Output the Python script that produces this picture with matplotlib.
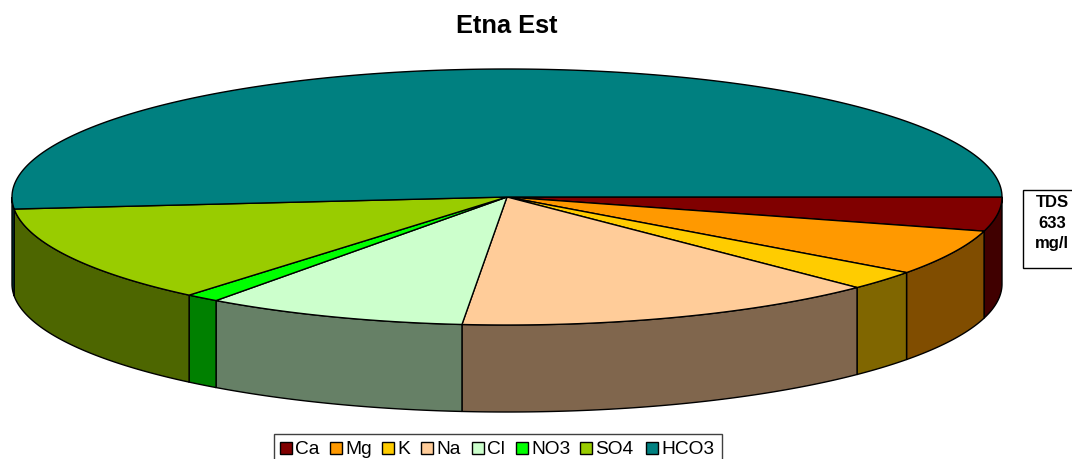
"""Grafico a torta 3D, composizione chimica Etna Est"""
import numpy as np
import matplotlib.pyplot as plt
from matplotlib.patches import Polygon, Rectangle

# Valori (percentuale sul totale)
ioni = ['Ca', 'Mg', 'K', 'Na', 'Cl', 'NO3', 'SO4', 'HCO3']
valori = [4.3, 5.75, 2.45, 13.95, 8.55, 1.1, 12.4, 51.5]
colori = ['#800000', '#FF9900', '#FFCC00', '#FFCC99', '#CCFFCC', '#00FF00', '#99CC00', '#008080']
colori_lato = ['#400000', '#804D00', '#806600', '#80664D', '#668066', '#008000', '#4D6600', '#004040']
titolo = 'Etna Est'
nota_tds = ['TDS', '633', 'mg/l']

plt.rcParams['font.family'] = ['Liberation Sans', 'DejaVu Sans']

fig = plt.figure(figsize=(10.72, 4.59), dpi=100)
ax = fig.add_axes([0, 0, 1, 1])
ax.set_xlim(0, 1072)
ax.set_ylim(459, 0)
ax.axis('off')

# Geometria dell'ellisse in pixel
cx, cy, rx, ry, spessore = 507, 197, 495, 128, 87


def arco(a1, a2, dy=0):
    """Punti dell'ellisse tra due angoli (gradi, senso orario dalle ore 3)."""
    t = np.radians(np.linspace(a1, a2, max(int(abs(a2 - a1)) * 3, 2) + 1))
    return np.column_stack([cx + rx * np.cos(t), cy + ry * np.sin(t) + dy])


limiti = np.concatenate([[0], np.cumsum(valori)]) / sum(valori) * 360

# Lati visibili (solo la meta' inferiore dell'ellisse)
for i in range(len(valori)):
    a1, a2 = limiti[i], min(limiti[i + 1], 180)
    if a1 < 180:
        bordo = np.vstack([arco(a1, a2), arco(a1, a2, spessore)[::-1]])
        ax.add_patch(Polygon(bordo, closed=True, fc=colori_lato[i], ec='black', lw=1, zorder=2))

# Facce superiori
for i in range(len(valori)):
    spicchio = np.vstack([[cx, cy], arco(limiti[i], limiti[i + 1])])
    ax.add_patch(Polygon(spicchio, closed=True, fc=colori[i], ec='black', lw=1, zorder=3))

ax.text(507, 26, titolo, ha='center', va='center', fontsize=18.25, fontweight='bold')

# Riquadro TDS
ax.add_patch(Rectangle((1023, 189.5), 60, 78, fc='white', ec='black', lw=1, zorder=1))
for riga, y in zip(nota_tds, [207, 228, 248]):
    ax.text(1052, y, riga, ha='center', va='baseline', fontsize=12, fontweight='bold')

# Legenda disegnata a mano per seguire le posizioni dell'originale
ax.add_patch(Rectangle((273.5, 434), 448.5, 30, fc='white', ec='#404040', lw=1, zorder=1))
pos_quadrati = [280, 330, 382, 421, 472, 516, 580, 646]
for nome, colore, x in zip(ioni, colori, pos_quadrati):
    ax.add_patch(Rectangle((x, 441.5), 12, 12, fc=colore, ec='black', lw=1, zorder=2))
    ax.text(x + 15.5, 449, nome, ha='left', va='center', fontsize=13.8)

fig.savefig('out.png', dpi=100)
